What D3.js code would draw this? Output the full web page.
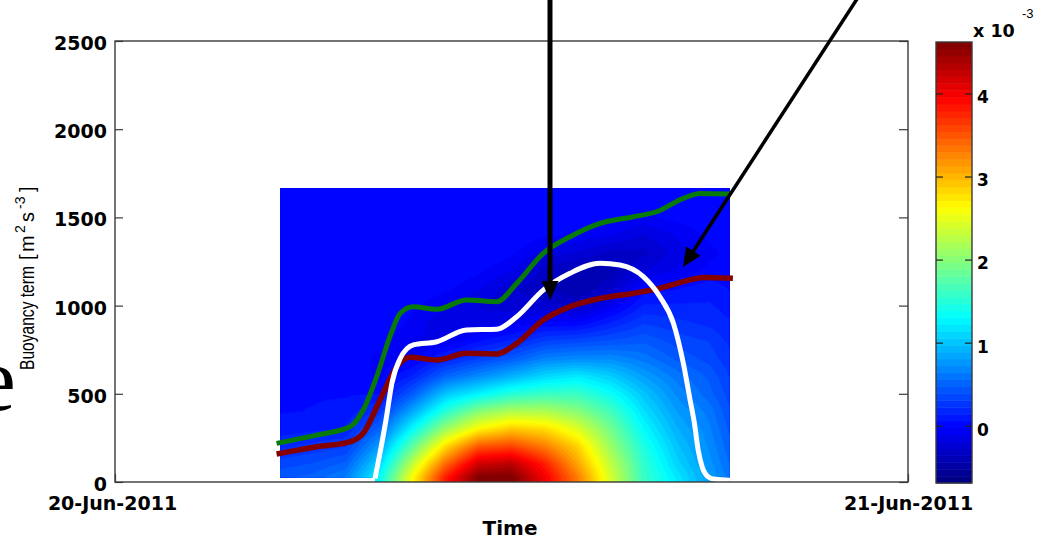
<!DOCTYPE html>
<html lang="en">
<head>
<meta charset="utf-8">
<title>Buoyancy term</title>
<script src="https://cdn.jsdelivr.net/npm/d3@7"></script>
<style>
  body { margin: 0; background: #fff; }
  svg { display: block; }
  .tick text { font-family: "DejaVu Sans", sans-serif; font-weight: bold; fill: #000; }
</style>
</head>
<body>
<script>
  var w = 1055;
  var h = 540;

  // ---- data ----
  // hours after 20-Jun-2011 00:00, values in m (y axis)
  var greenHours = [4.89, 6.10, 7.11, 7.51, 7.92, 8.32, 8.63, 9.02, 9.74, 10.64, 11.55, 12.16, 12.96, 13.77, 14.68, 15.69, 16.39, 17.20, 17.71, 18.61];
  var greenVals  = [219, 266, 313, 408, 597, 824, 956, 994, 979, 1032, 1022, 1126, 1296, 1390, 1466, 1504, 1532, 1608, 1636, 1633];

  var redHours = [4.89, 6.10, 7.11, 7.51, 8.02, 8.53, 8.93, 9.74, 10.64, 11.55, 12.16, 12.96, 13.77, 14.68, 15.69, 16.49, 17.20, 17.81, 18.70];
  var redVals  = [159, 200, 228, 276, 465, 654, 707, 692, 730, 726, 786, 918, 994, 1041, 1070, 1098, 1136, 1160, 1155];

  var whiteHours = [7.87, 8.02, 8.20, 8.38, 8.63, 9.03, 9.74, 10.64, 11.55, 12.16, 12.96, 13.77, 14.68, 15.28, 15.99, 16.49, 16.90, 17.20, 17.41, 17.53, 17.65, 17.77, 17.95, 18.16, 18.61];
  var whiteVals  = [20, 164, 350, 560, 700, 777, 795, 862, 866, 937, 1088, 1183, 1240, 1230, 1164, 1050, 900, 673, 460, 340, 181, 85, 30, 15, 10];

  // colour field (x 1e-3 m^2 s^-3): one column per hour, bottom -> top
  var fieldHours   = [5, 6, 7, 8, 9, 10, 11, 12, 13, 14, 15, 16, 17, 18, 18.6];
  var fieldHeights = [26, 100, 200, 300, 400, 500, 600, 700, 800, 900, 1000, 1100, 1200, 1300, 1400, 1500, 1667];
  var fieldValues = [
    [0.45, 0.35, 0.2, 0.1, 0.05, 0.05, 0.05, 0.05, 0.05, 0.05, 0.05, 0.05, 0.05, 0.05, 0.05, 0.05, 0.05],
    [0.5, 0.4, 0.25, 0.12, 0.06, 0.05, 0.05, 0.05, 0.05, 0.05, 0.05, 0.05, 0.05, 0.05, 0.05, 0.05, 0.05],
    [0.65, 0.5, 0.3, 0.15, 0.08, 0.05, 0.05, 0.05, 0.05, 0.05, 0.05, 0.05, 0.05, 0.05, 0.05, 0.05, 0.05],
    [1.3, 1.1, 0.8, 0.5, 0.25, 0.05, -0.05, -0.05, 0.0, 0.05, 0.05, 0.05, 0.05, 0.05, 0.05, 0.05, 0.05],
    [2.6, 2.3, 1.8, 1.3, 0.85, 0.45, 0.15, -0.05, -0.12, -0.05, 0.0, 0.05, 0.05, 0.05, 0.05, 0.05, 0.05],
    [3.8, 3.4, 2.8, 2.1, 1.5, 1.0, 0.5, 0.15, -0.1, -0.2, -0.1, 0.0, 0.05, 0.05, 0.05, 0.05, 0.05],
    [4.6, 4.2, 3.5, 2.65, 2.0, 1.25, 0.7, 0.3, 0.05, -0.15, -0.2, -0.1, 0.0, 0.05, 0.05, 0.05, 0.05],
    [4.6, 4.3, 3.6, 2.9, 2.2, 1.5, 0.9, 0.45, 0.15, -0.1, -0.25, -0.25, -0.1, 0.0, 0.05, 0.05, 0.05],
    [4.0, 3.8, 3.3, 2.8, 2.2, 1.6, 1.1, 0.65, 0.3, 0.0, -0.25, -0.35, -0.3, -0.15, 0.0, 0.05, 0.05],
    [3.3, 3.1, 2.85, 2.45, 2.0, 1.6, 1.2, 0.7, 0.35, 0.0, -0.3, -0.45, -0.4, -0.2, -0.05, 0.05, 0.05],
    [2.4, 2.3, 2.1, 1.9, 1.65, 1.35, 1.05, 0.7, 0.4, 0.15, -0.1, -0.3, -0.4, -0.3, -0.1, 0.0, 0.05],
    [1.6, 1.55, 1.45, 1.3, 1.15, 1.0, 0.8, 0.6, 0.45, 0.3, 0.15, 0.0, -0.2, -0.3, -0.2, -0.05, 0.05],
    [1.2, 1.1, 1.0, 0.9, 0.8, 0.7, 0.6, 0.45, 0.35, 0.25, 0.15, 0.05, -0.1, -0.15, -0.1, 0.0, 0.05],
    [0.8, 0.75, 0.7, 0.65, 0.6, 0.5, 0.45, 0.35, 0.3, 0.2, 0.15, 0.1, 0.0, -0.05, 0.0, 0.05, 0.05],
    [0.6, 0.55, 0.5, 0.45, 0.4, 0.35, 0.3, 0.25, 0.2, 0.15, 0.1, 0.05, 0.0, 0.0, 0.05, 0.05, 0.05]
  ];

  var yTicks = [0, 500, 1000, 1500, 2000, 2500];
  var xTickLabels = ["20-Jun-2011", "21-Jun-2011"];
  var cTicks = [0, 1, 2, 3, 4];
  var cRange = [-0.69, 4.62];
  var nColors = 64;

  // arrows: tail and tip as [hour, value]
  var arrows = [
    { tail: [13.165, 2765], tip: [13.165, 1032], width: 5 },
    { tail: [22.55, 2765], tip: [17.19, 1219], width: 3.5 }
  ];

  // ---- scales ----
  var day0 = new Date(2011, 5, 20), day1 = new Date(2011, 5, 21);
  function toDate(hr) { return new Date(day0.getTime() + hr * 3600e3); }
  function toHour(d) { return (d.getTime() - day0.getTime()) / 3600e3; }

  var x = d3.scaleTime().domain([day0, day1]).range([115, 908]);
  var y = d3.scaleLinear().domain([0, 2500]).range([482, 41]);
  var c = d3.scaleLinear().domain(cRange).range([483, 42]);

  function jet(t) {
    var cl = function(v) { return Math.max(0, Math.min(1, v)); };
    var r = cl(1.5 - Math.abs(4 * t - 3)), g = cl(1.5 - Math.abs(4 * t - 2)), b = cl(1.5 - Math.abs(4 * t - 1));
    return d3.rgb(r * 255, g * 255, b * 255).toString();
  }
  var step = (cRange[1] - cRange[0]) / nColors;
  var levels = d3.range(nColors).map(function(k) { return cRange[0] + k * step; });
  var colorOf = d3.scaleQuantize().domain(cRange).range(levels.map(function(d, k) { return jet((k + 0.25) / (nColors - 0.5)); }));

  var svg = d3.select("body").append("svg").attr("width", w).attr("height", h);

  // ---- colour field ----
  function bilinear(hr, v) {
    hr = Math.max(fieldHours[0], Math.min(fieldHours[fieldHours.length - 1], hr));
    v = Math.max(fieldHeights[0], Math.min(fieldHeights[fieldHeights.length - 1], v));
    var i = Math.min(fieldHours.length - 2, Math.max(0, d3.bisectRight(fieldHours, hr) - 1));
    var j = Math.min(fieldHeights.length - 2, Math.max(0, d3.bisectRight(fieldHeights, v) - 1));
    var tx = (hr - fieldHours[i]) / (fieldHours[i + 1] - fieldHours[i]);
    var ty = (v - fieldHeights[j]) / (fieldHeights[j + 1] - fieldHeights[j]);
    var a = fieldValues[i][j], b = fieldValues[i + 1][j], cc = fieldValues[i][j + 1], d = fieldValues[i + 1][j + 1];
    return (a * (1 - tx) + b * tx) * (1 - ty) + (cc * (1 - tx) + d * tx) * ty;
  }

  var fx0 = x(toDate(fieldHours[0])), fx1 = x(toDate(fieldHours[fieldHours.length - 1]));
  var fy0 = y(fieldHeights[fieldHeights.length - 1]), fy1 = y(0);
  var nx = Math.round((fx1 - fx0) / 2), ny = Math.round((fy1 - fy0) / 2);
  var grid = new Array(nx * ny);
  for (var j = 0; j < ny; j++) {
    for (var i = 0; i < nx; i++) {
      var px = fx0 + (i + 0.5) * (fx1 - fx0) / nx;
      var py = fy0 + (j + 0.5) * (fy1 - fy0) / ny;
      grid[j * nx + i] = bilinear(toHour(x.invert(px)), y.invert(py));
    }
  }
  var contours = d3.contours().size([nx, ny]).thresholds(levels)(grid);
  var toPx = d3.geoTransform({
    point: function(gx, gy) {
      this.stream.point(fx0 + gx * (fx1 - fx0) / nx, fy0 + gy * (fy1 - fy0) / ny);
    }
  });

  // clip: field rectangle above its bottom row, plus the area under the white line
  var clip = svg.append("clipPath").attr("id", "fieldclip");
  clip.append("rect")
      .attr("x", fx0).attr("y", fy0)
      .attr("width", fx1 - fx0).attr("height", y(fieldHeights[0]) - fy0);
  clip.append("path")
      .attr("d", d3.area()
        .x(function(d, k) { return x(toDate(whiteHours[k])); })
        .y0(y(0))
        .y1(function(d) { return y(d); })
        .curve(d3.curveMonotoneX)(whiteVals));

  svg.append("g")
     .attr("clip-path", "url(#fieldclip)")
     .selectAll("path")
     .data(contours)
     .enter()
     .append("path")
     .attr("d", d3.geoPath(toPx))
     .attr("fill", function(d) { return colorOf(d.value + step / 2); })
     .attr("stroke", function(d) { return colorOf(d.value + step / 2); })
     .attr("stroke-width", 0.4);

  // ---- lines ----
  function drawLine(hours, vals, color, width) {
    svg.append("path")
       .datum(vals)
       .attr("d", d3.line()
          .x(function(d, k) { return x(toDate(hours[k])); })
          .y(function(d) { return y(d); })
          .curve(d3.curveMonotoneX))
       .attr("fill", "none")
       .attr("stroke", color)
       .attr("stroke-width", width)
       .attr("stroke-linejoin", "round");
  }
  drawLine(greenHours, greenVals, "#077a07", 5);
  drawLine(redHours, redVals, "#870000", 5.5);
  drawLine(whiteHours, whiteVals, "#ffffff", 5);

  // ---- axes box ----
  svg.append("rect")
     .attr("x", 115).attr("y", 41)
     .attr("width", 908 - 115).attr("height", 482 - 41)
     .attr("fill", "none").attr("stroke", "#3a3a3a").attr("stroke-width", 1.4);

  var yAxis = svg.append("g")
     .attr("transform", "translate(115,0)")
     .call(d3.axisLeft(y).tickValues(yTicks).tickSize(-8).tickPadding(8).tickFormat(d3.format("d")));
  var yAxisR = svg.append("g")
     .attr("transform", "translate(908,0)")
     .call(d3.axisRight(y).tickValues(yTicks).tickSize(-9).tickFormat(""));
  var xAxis = svg.append("g")
     .attr("transform", "translate(0,482)")
     .call(d3.axisBottom(x).tickValues([day0, day1]).tickSize(-8).tickPadding(15)
       .tickFormat(function(d, k) { return xTickLabels[k]; }));

  [yAxis, yAxisR, xAxis].forEach(function(g) {
    g.select(".domain").remove();
    g.selectAll(".tick line").attr("stroke", "#3a3a3a").attr("stroke-width", 1.2);
    g.selectAll(".tick text").attr("font-size", 19);
  });
  yAxis.selectAll(".tick text").attr("dy", "0.45em");
  xAxis.select(".tick text").attr("dx", -3);

  // axis titles
  svg.append("text")
     .attr("x", 510).attr("y", 535)
     .attr("text-anchor", "middle")
     .attr("font-family", "DejaVu Sans, sans-serif")
     .attr("font-weight", "bold")
     .attr("font-size", 20)
     .text("Time");

  // y label: tall, narrow face for the words, units set a little wider
  var sx = 0.78;
  var ylab = svg.append("g").attr("transform", "translate(34,370) rotate(-90)")
     .attr("font-family", "Liberation Sans, Arial, sans-serif")
     .attr("fill", "#000");
  ylab.append("text")
     .attr("transform", "scale(" + sx + ",1)")
     .attr("font-size", 20)
     .text("Buoyancy term");
  var units = ylab.append("text").attr("font-size", 20);
  units.append("tspan").attr("x", 110).text("[");
  units.append("tspan").attr("x", 118).text("m");
  units.append("tspan").attr("x", 137).attr("dy", -9).attr("font-size", 14).text("2");
  units.append("tspan").attr("x", 148).attr("dy", 9).text("s");
  units.append("tspan").attr("x", 161).attr("dy", -9).attr("font-size", 14).text("-3");
  units.append("tspan").attr("x", 178).attr("dy", 9).text("]");

  svg.append("text")
     .attr("x", -25).attr("y", 410)
     .attr("font-family", "Liberation Serif, Times New Roman, serif")
     .attr("font-size", 92)
     .text("e");

  // ---- colour bar ----
  var cb = svg.append("g");
  cb.selectAll("rect.band")
    .data(levels)
    .enter()
    .append("rect")
    .attr("class", "band")
    .attr("x", 936)
    .attr("width", 36)
    .attr("y", function(d) { return c(d + step); })
    .attr("height", function(d) { return c(d) - c(d + step) + 0.5; })
    .attr("fill", function(d) { return colorOf(d + step / 2); });
  cb.append("rect")
    .attr("x", 936).attr("y", 42).attr("width", 36).attr("height", 441)
    .attr("fill", "none").attr("stroke", "#3a3a3a").attr("stroke-width", 1.4);

  var cbAxis = cb.append("g")
    .attr("transform", "translate(972,0)")
    .call(d3.axisRight(c).tickValues(cTicks).tickSize(-7).tickPadding(5).tickFormat(d3.format("d")));
  var cbAxisL = cb.append("g")
    .attr("transform", "translate(936,0)")
    .call(d3.axisLeft(c).tickValues(cTicks).tickSize(-7).tickFormat(""));
  [cbAxis, cbAxisL].forEach(function(g) {
    g.select(".domain").remove();
    g.selectAll(".tick line").attr("stroke", "#222").attr("stroke-width", 1.2);
  });
  cbAxis.selectAll(".tick text").attr("font-size", 17).attr("dy", "0.55em");

  svg.append("text")
     .attr("x", 973).attr("y", 37)
     .attr("font-family", "DejaVu Sans, sans-serif")
     .attr("font-weight", "bold")
     .attr("font-size", 17.5)
     .text("x 10");
  svg.append("text")
     .attr("x", 1022).attr("y", 18)
     .attr("font-family", "Liberation Sans, Arial, sans-serif")
     .attr("font-size", 13)
     .text("-3");

  // ---- arrows ----
  arrows.forEach(function(a) {
    var x0 = x(toDate(a.tail[0])), y0 = y(a.tail[1]);
    var x1 = x(toDate(a.tip[0])), y1 = y(a.tip[1]);
    var len = Math.hypot(x1 - x0, y1 - y0);
    var ux = (x1 - x0) / len, uy = (y1 - y0) / len;
    var nxv = -uy, nyv = ux;
    var hl = 19, hw = 8.5;
    var bx = x1 - ux * hl, by = y1 - uy * hl;
    svg.append("line")
       .attr("x1", x0).attr("y1", y0)
       .attr("x2", bx + ux * 2).attr("y2", by + uy * 2)
       .attr("stroke", "#000").attr("stroke-width", a.width);
    svg.append("path")
       .attr("d", "M" + x1 + "," + y1 + "L" + (bx + nxv * hw) + "," + (by + nyv * hw) +
                  "L" + (bx - nxv * hw) + "," + (by - nyv * hw) + "Z")
       .attr("fill", "#000");
  });
</script>
</body>
</html>
